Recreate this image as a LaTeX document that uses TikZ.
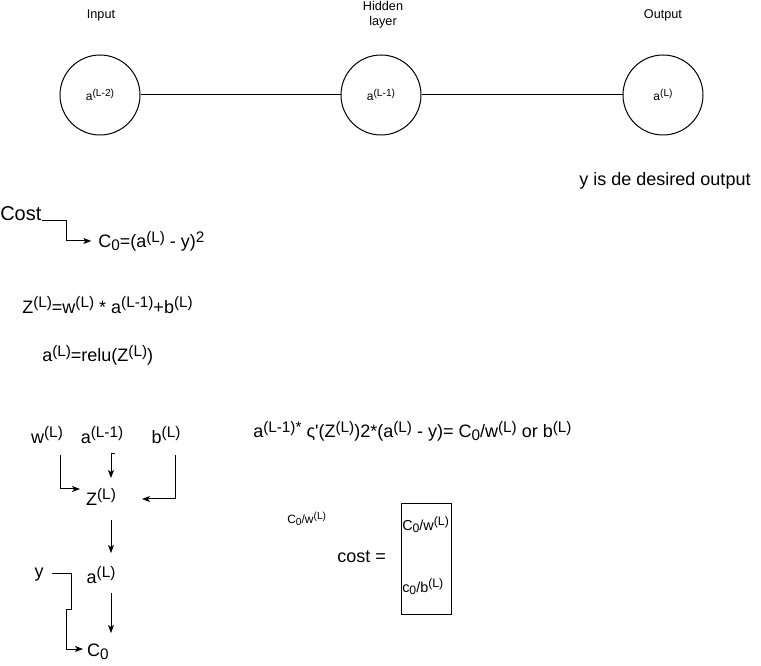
\documentclass[tikz,border=0pt]{standalone}
\usepackage{fontspec}
\setmainfont{Liberation Sans}
\usepackage{graphicx}
\usetikzlibrary{arrows.meta,calc}
\newcommand\sps[1]{\raisebox{0.55ex}{\scalebox{0.85}{#1}}}
\newcommand\sbs[1]{\raisebox{-0.35ex}{\scalebox{0.85}{#1}}}
\begin{document}
\begin{tikzpicture}[x=0.75pt,y=-0.75pt,
 neuron/.style={draw,circle,minimum size=60pt,inner sep=0pt,font=\fontsize{9}{10}\selectfont,line width=0.75pt},
 small/.style={font=\fontsize{9.5}{11}\selectfont,inner sep=0pt},
 big/.style={font=\fontsize{13.5}{15}\selectfont,inner sep=0pt},
 boxtxt/.style={font=\fontsize{10.8}{12}\selectfont,inner sep=0pt},
 tiny/.style={font=\fontsize{9}{10}\selectfont,inner sep=0pt},
 conn/.style={line width=0.75pt},
 arr/.style={line width=0.75pt,-{Stealth[length=6pt,width=4.5pt,inset=1.5pt]}}]
\useasboundingbox (0,0) rectangle (761,666);
% network
\node[neuron] (nin) at (100,95) {a\sps{(L-2)}};
\node[neuron] (nhid) at (381,95) {a\sps{(L-1)}};
\node[neuron] (nout) at (663,95) {a\sps{(L)}};
\draw[conn] (nin) -- (nhid);
\draw[conn] (nhid) -- (nout);
\node[small] (lin) at (101,15) {Input};
\node[small,align=center] (lhid) at (383,15) {Hidden\\layer};
\node[small] (lout) at (663,15) {Output};
\node[big] (des) at (665,181) {y is de desired output};
% cost
\node[big,font=\fontsize{15}{17}\selectfont,anchor=base west] (cost) at (0,221) {Cost};
\node[big,anchor=west] (c0eq) at (98,241) {C\sbs{0}=(a\sps{(L)} - y)\sps{2}};
\draw[arr,shorten >=5pt] (cost.base east) -- ++(25,0) |- (c0eq.west);
\node[big,anchor=west] (zeq) at (22,305) {Z\sps{(L)}=w\sps{(L)} * a\sps{(L-1)}+b\sps{(L)}};
\node[big,anchor=west] (releq) at (42,355) {a\sps{(L)}=relu(Z\sps{(L)})};
% tree
\node[big] (w) at (47,435) {w\sps{(L)}};
\node[big] (aL1) at (102,435) {a\sps{(L-1)}};
\node[big] (b) at (166,435) {b\sps{(L)}};
\node[big] (Z) at (101,497) {Z\sps{(L)}};
\node[big] (aL) at (101,575) {a\sps{(L)}};
\node[big] (y) at (39,575) {y};
\node[big] (C0) at (98,652) {C\sbs{0}};
\draw[arr] ($(w)+(13,20)$) |- ($(Z)+(-21,-8)$);
\draw[arr] ($(aL1)+(13,19)$) -- ($(aL1)+(9,19)$) -- ($(Z)+(10,-19)$);
\draw[arr] ($(b)+(9,20)$) |- ($(Z)+(41,2)$);
\draw[arr] ($(Z)+(10,23)$) -- ($(aL)+(10,-22)$);
\draw[arr] ($(aL)+(10,18)$) -- ($(C0)+(13,-19)$);
\draw[arr] ($(y)+(13,-1)$) -- ($(y)+(32,-1)$) -- ($(y)+(32,34)$) -- ($(y)+(27,34)$) |- ($(C0)+(-15,-3)$);
% derivative
\node[big,anchor=west] (deq) at (253,431) {a\sps{(L-1)*} ς\textquotesingle(Z\sps{(L)})2*(a\sps{(L)} - y)= C\sbs{0}/w\sps{(L)} or b\sps{(L)}};
\node[tiny,anchor=west] (smallc) at (287,519) {C\sbs{0}/w\sps{(L)}};
\node[big,anchor=west] (costeq) at (337,557) {cost =};
\node[draw,line width=0.75pt,minimum width=37.5pt,minimum height=82.5pt,inner sep=0pt] (box) at (426,559) {};
\node[boxtxt,anchor=west] (bw) at (402,525) {C\sbs{0}/w\sps{(L)}};
\node[boxtxt,anchor=west] (bb) at (402,587) {c\sbs{0}/b\sps{(L)}};
\end{tikzpicture}
\end{document}
